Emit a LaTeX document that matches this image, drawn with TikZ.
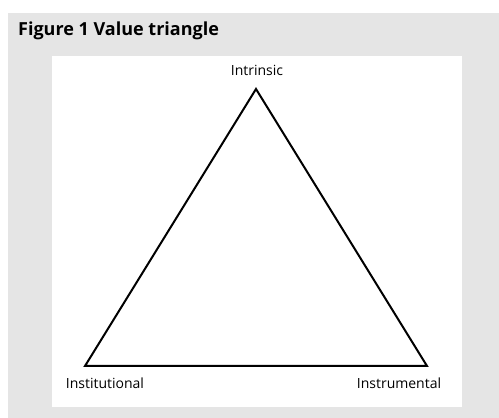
\documentclass[tikz,border=0pt]{standalone}
\usepackage{fontspec}
\setmainfont{Open Sans}
\definecolor{panelgray}{HTML}{E5E5E5}
\tikzset{
  px/.style={x=1pt,y=1pt},
  lbl/.style={inner sep=0pt, font=\fontsize{14}{16}\selectfont},
  edge/.style={draw=black, line width=2pt, line join=miter}
}
\begin{document}
\begin{tikzpicture}[px]
\useasboundingbox (0,0) rectangle (499,418);
\fill[white] (0,0) rectangle (499,418);
\fill[panelgray] (8,0) rectangle (499,405);
\fill[white] (52,11) rectangle (462,362);
\node[anchor=base west, inner sep=0pt, font=\bfseries\fontsize{18}{20}\selectfont] (title) at (18,382) {Figure 1 Value triangle};
\coordinate (A) at (256,329);
\coordinate (B) at (85,52);
\coordinate (C) at (427,52);
\draw[edge] (A) -- (B) -- (C) -- cycle;
\node[lbl] (intr) at (257,348) {Intrinsic};
\node[lbl] (inst) at (105,35) {Institutional};
\node[lbl] (instr) at (399,35) {Instrumental};
\end{tikzpicture}
\end{document}
